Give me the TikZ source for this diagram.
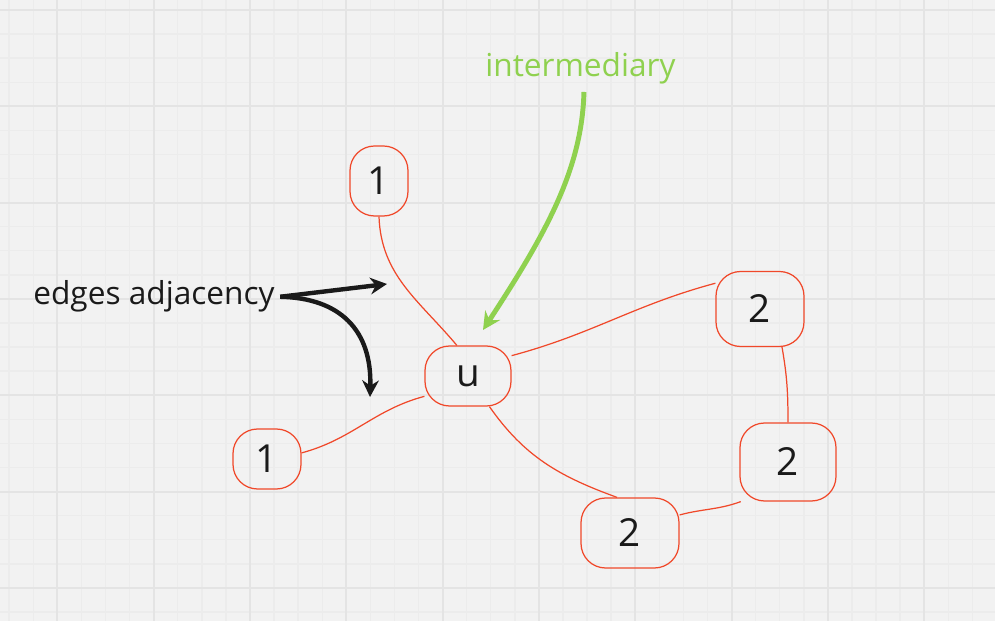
\documentclass[tikz,border=0pt]{standalone}
\usepackage{xcolor}
\usepackage{fontspec}
\setmainfont{Open Sans}
\usepackage{tikz}
\usetikzlibrary{arrows.meta, positioning, calc}

\definecolor{boardbg}{HTML}{F2F2F2}
\definecolor{gridminor}{HTML}{ECECEC}
\definecolor{gridmajor}{HTML}{E4E4E4}
\definecolor{edgered}{HTML}{F0482A}
\definecolor{notegreen}{HTML}{8FD14F}
\definecolor{inkblack}{HTML}{1A1A1A}

\begin{document}
\begin{tikzpicture}[
    x=0.02cm, y=-0.02cm,
    blob/.style={rectangle, draw=edgered, line width=0.7pt, rounded corners=14pt, inner sep=0pt, text=inkblack, font=\fontsize{22}{22}\selectfont},
    edge/.style={draw=edgered, line width=0.7pt},
    arr/.style={-{Stealth[length=9.5pt, width=9.5pt]}, line width=2.5pt, draw=inkblack},
    garr/.style={-{Stealth[length=10pt, width=10pt]}, line width=2.8pt, draw=notegreen},
    note/.style={inner sep=0pt, font=\fontsize{18}{18}\selectfont},
]
% board with grid
\fill[boardbg] (0,0) rectangle (995,621);
\useasboundingbox (0,0) rectangle (995,621);
\foreach \k in {0,...,41} {\draw[gridminor, line width=0.8pt] ({9.17+24.08*\k},0) -- ++(0,621);}
\foreach \k in {0,...,25} {\draw[gridminor, line width=0.8pt] (0,{10+24.08*\k}) -- ++(995,0);}
\foreach \k in {0,...,9} {\draw[gridmajor, line width=1.1pt] ({57.33+96.33*\k},0) -- ++(0,621);}
\foreach \k in {0,...,6} {\draw[gridmajor, line width=1.1pt] (0,{10+96.33*\k}) -- ++(995,0);}

% vertices
\node[blob, minimum width=58*0.02cm, minimum height=70*0.02cm] (oneA) at (379,181) {1};
\node[blob, minimum width=86*0.02cm, minimum height=60*0.02cm] (u) at (468,376) {u};
\node[blob, minimum width=68*0.02cm, minimum height=60*0.02cm] (oneB) at (267,459) {1};
\node[blob, minimum width=88*0.02cm, minimum height=75*0.02cm] (twoA) at (760,309) {2};
\node[blob, minimum width=96*0.02cm, minimum height=78*0.02cm] (twoB) at (788,462) {2};
\node[blob, minimum width=98*0.02cm, minimum height=70*0.02cm] (twoC) at (630,533) {2};

% edges
\draw[edge] (oneA.south) to[out=-88, in=130] (u.110);
\draw[edge] (u.205) to[out=195, in=15] (oneB.10);
\draw[edge] (u.25) to[out=15, in=195] (twoA.150);
\draw[edge] (u.-55) to[out=-55, in=160] (twoC.110);
\draw[edge] (twoA.-60) to[out=-80, in=90] (twoB.north);
\draw[edge] (twoB.-140) to[out=200, in=15] (twoC.20);

% labels and pointers
\node[note, text=inkblack, anchor=base west] (adj) at (33,305) {edges adjacency};
\coordinate (adjtipA) at (387,284);
\coordinate (adjtipB) at (370,397);
\draw[arr] ([xshift=3pt]adj.east) -- (adjtipA);
\draw[arr] ([xshift=3pt]adj.east) .. controls (340,298) and (372,330) .. (adjtipB);

\node[note, text=notegreen, anchor=base west] (inter) at (485,77) {intermediary};
\coordinate (intertip) at (483,330);
\draw[garr] ([xshift=2pt, yshift=-4pt]inter.south) .. controls (582,170) and (545,235) .. (intertip);
\end{tikzpicture}
\end{document}
